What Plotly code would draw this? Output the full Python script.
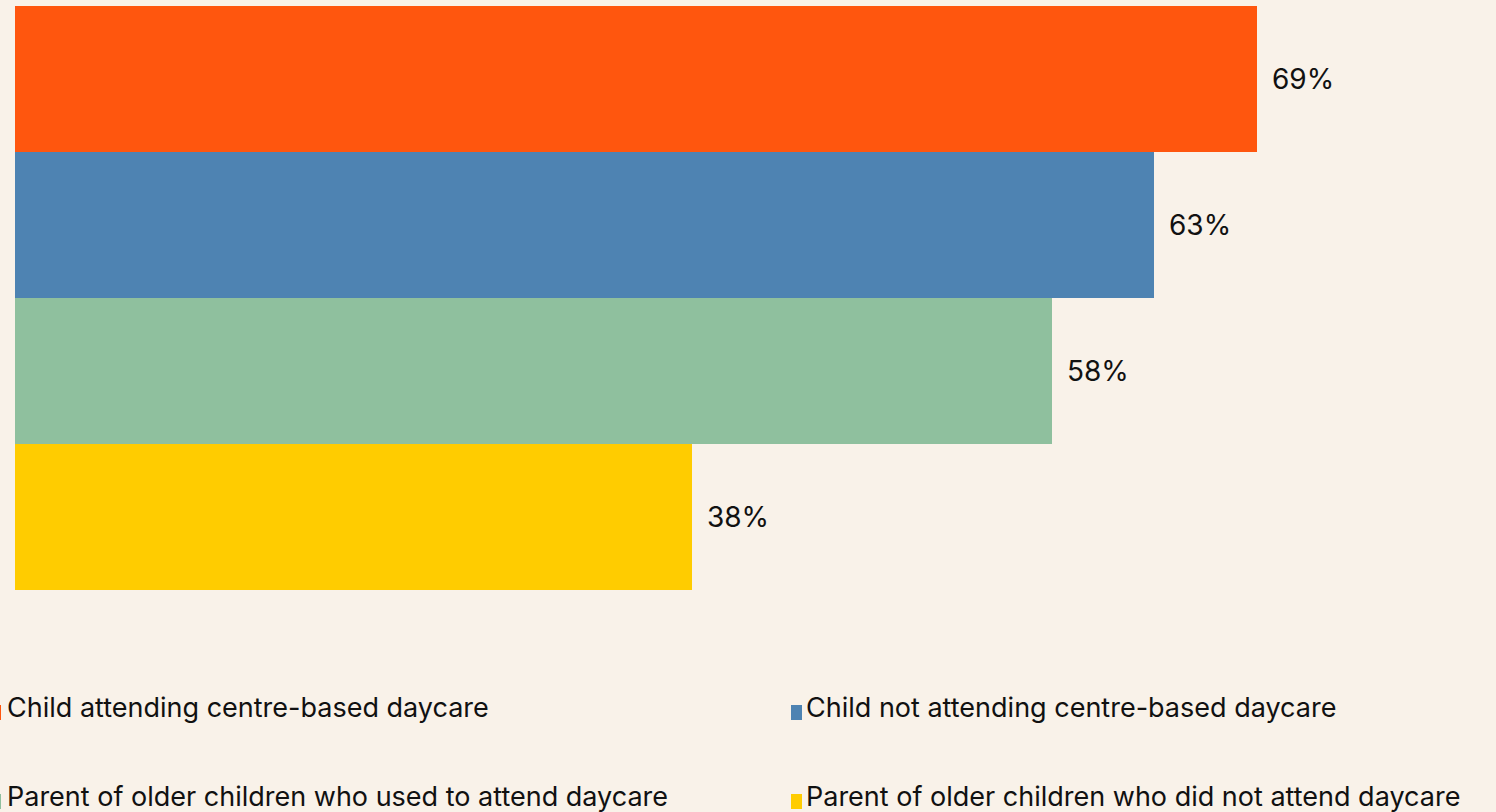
import plotly.graph_objects as go

# survey groups, top to bottom
groups = [
    "Child attending centre-based daycare",
    "Child not attending centre-based daycare",
    "Parent of older children who used to attend daycare",
    "Parent of older children who did not attend daycare",
]
values = [69.0, 63.3, 57.6, 37.6]
labels = ["69%", "63%", "58%", "38%"]
colors = ["#FF560E", "#4E83B2", "#8FC09E", "#FFCC00"]

W, H = 1496, 812
ML, MR, MT, MB = 15, 0, 6, 222
PW, PH = W - ML - MR, H - MT - MB
FONT = "Inter"
BG = "#F9F2E9"


def px_x(px):
    return (px - ML) / PW


def px_y(py):
    return (H - MB - py) / PH


fig = go.Figure()

for g, v, lab, c in zip(groups, values, labels, colors):
    fig.add_trace(go.Bar(
        x=[v], y=[g], orientation="h", name=g,
        marker=dict(color=c, line=dict(width=0)),
        showlegend=False,
    ))
    fig.add_annotation(
        x=v, y=g, text=lab, showarrow=False, xanchor="left", xshift=13,
        font=dict(family=FONT, size=28, color="#111111"),
    )

# legend drawn by hand: two columns, two rows
col_text = [7, 806]
col_mark = [-10, 791]
row_y = [707, 796]
for i, (g, c) in enumerate(zip(groups, colors)):
    r, k = divmod(i, 2)
    fig.add_annotation(
        x=px_x(col_text[k]), y=px_y(row_y[r]), xref="paper", yref="paper",
        text=g, showarrow=False, xanchor="left", yanchor="middle",
        borderpad=0, borderwidth=0,
        font=dict(family=FONT, size=27, color="#111111"),
    )
    fig.add_shape(
        type="rect", xref="paper", yref="paper",
        x0=px_x(col_mark[k]), x1=px_x(col_mark[k] + 11),
        y0=px_y(row_y[r] + 13), y1=px_y(row_y[r] - 2),
        fillcolor=c, line=dict(width=0),
    )

fig.update_layout(
    width=W, height=H,
    margin=dict(l=ML, r=MR, t=MT, b=MB, autoexpand=False),
    paper_bgcolor=BG, plot_bgcolor=BG,
    barmode="overlay", bargap=0,
    font=dict(family=FONT, color="#111111"),
    xaxis=dict(range=[0, PW / 18], visible=False, fixedrange=True),
    yaxis=dict(autorange="reversed", visible=False, fixedrange=True),
)

fig.write_html(
    "out.html",
    config={"displayModeBar": False},
    post_script=f"document.body.style.margin='0';document.body.style.background='{BG}';",
)
